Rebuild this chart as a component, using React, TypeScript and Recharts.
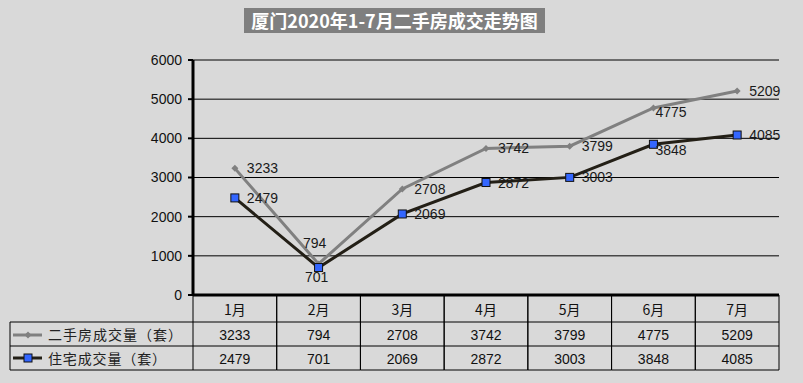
import React from 'react';
import {
  ComposedChart,
  Line,
  XAxis,
  YAxis,
  CartesianGrid,
  LabelList,
} from 'recharts';

// 厦门2020年1-7月二手房成交数据（套）
const months = ['1月', '2月', '3月', '4月', '5月', '6月', '7月'];
const resaleDeals = [3233, 794, 2708, 3742, 3799, 4775, 5209];
const housingDeals = [2479, 701, 2069, 2872, 3003, 3848, 4085];
const yTicks = [0, 1000, 2000, 3000, 4000, 5000, 6000];

const seriesNames = ['二手房成交量（套）', '住宅成交量（套）'];

const data = months.map((m, i) => ({
  month: m,
  resale: resaleDeals[i],
  housing: housingDeals[i],
}));

const W = 803;
const H = 383;
const PLOT_LEFT = 193;
const PLOT_RIGHT = 779;
const COL_W = (PLOT_RIGHT - PLOT_LEFT) / months.length;
const TABLE_LEFT = 10;
const ROW1 = 27;
const ROW2 = 51;
const ROW3 = 75;

const BG = '#d9d9d9';
const GREY = '#808080';
const DARK = '#231f16';
const BLUE = '#3366ff';
const NUM_FONT = '"Liberation Sans", Arial, sans-serif';
const CJK_FONT = '"Noto Sans CJK SC", "Noto Sans", sans-serif';

// label placement per point: [dx, dy, anchor]
const resaleLabelPos: Record<number, [number, number, string]> = {
  1: [-4, -16, 'middle'],
  5: [2, 9, 'start'],
};
const housingLabelPos: Record<number, [number, number, string]> = {
  1: [-2, 14, 'middle'],
  5: [2, 11, 'start'],
};

const makeLabel = (pos: Record<number, [number, number, string]>) => (props: any) => {
  const { x, y, value, index } = props;
  const [dx, dy, anchor] = pos[index] || [12, 5, 'start'];
  return (
    <text
      x={x + dx}
      y={y + dy}
      textAnchor={anchor as any}
      fontSize={14}
      fontFamily={NUM_FONT}
      fill="#1a1a1a"
    >
      {value}
    </text>
  );
};

const Diamond = ({ cx, cy, r = 3.5, fill = GREY }: any) => (
  <path d={`M${cx},${cy - r} L${cx + r},${cy} L${cx},${cy + r} L${cx - r},${cy} Z`} fill={fill} />
);

const Square = ({ cx, cy, s = 8 }: any) => (
  <rect x={cx - s / 2} y={cy - s / 2} width={s} height={s} fill={BLUE} stroke="#111" strokeWidth={1} />
);

// each x tick draws one column of the data table under the plot
const TableColumn = (props: any) => {
  const { x, y, payload } = props;
  const i = payload.index;
  const left = x - COL_W / 2;
  const right = x + COL_W / 2;
  const textProps = { fontSize: 14, fill: '#111', textAnchor: 'middle' as const };
  return (
    <g>
      <line x1={left} y1={y} x2={left} y2={y + ROW3} stroke="#000" strokeWidth={1} />
      <line x1={right} y1={y} x2={right} y2={y + ROW3} stroke="#000" strokeWidth={1} />
      <line x1={left} y1={y + ROW1} x2={right} y2={y + ROW1} stroke="#000" strokeWidth={1} />
      <line x1={left} y1={y + ROW2} x2={right} y2={y + ROW2} stroke="#000" strokeWidth={1} />
      <line x1={left} y1={y + ROW3} x2={right} y2={y + ROW3} stroke="#000" strokeWidth={1} />
      <text x={x} y={y + 20} fontFamily={CJK_FONT} {...textProps}>
        {months[i]}
      </text>
      <text x={x} y={y + 45} fontFamily={NUM_FONT} {...textProps}>
        {resaleDeals[i]}
      </text>
      <text x={x} y={y + 69} fontFamily={NUM_FONT} {...textProps}>
        {housingDeals[i]}
      </text>
      {i === 0 && (
        <g>
          <line x1={TABLE_LEFT} y1={y + ROW1} x2={left} y2={y + ROW1} stroke="#000" strokeWidth={1} />
          <line x1={TABLE_LEFT} y1={y + ROW2} x2={left} y2={y + ROW2} stroke="#000" strokeWidth={1} />
          <line x1={TABLE_LEFT} y1={y + ROW3} x2={left} y2={y + ROW3} stroke="#000" strokeWidth={1} />
          <line x1={TABLE_LEFT} y1={y + ROW1} x2={TABLE_LEFT} y2={y + ROW3} stroke="#000" strokeWidth={1} />
          {/* legend keys */}
          <line x1={13} y1={y + 40} x2={42} y2={y + 40} stroke={GREY} strokeWidth={3} />
          <Diamond cx={28} cy={y + 40} />
          <line x1={13} y1={y + 63} x2={42} y2={y + 63} stroke={DARK} strokeWidth={3} />
          <Square cx={28} cy={y + 63} s={8} />
          <text x={48} y={y + 45} fontSize={14} textLength={134} lengthAdjust="spacing" fontFamily={CJK_FONT} fill="#222">
            {seriesNames[0]}
          </text>
          <text x={48} y={y + 69} fontSize={14} textLength={118} lengthAdjust="spacing" fontFamily={CJK_FONT} fill="#222">
            {seriesNames[1]}
          </text>
        </g>
      )}
    </g>
  );
};

const App: React.FC = () => {
  return (
    <div style={{ position: 'absolute', left: 0, top: 0, width: W, height: H, background: BG }}>
      <div
        style={{
          position: 'absolute',
          left: 244,
          top: 8,
          width: 301,
          height: 25,
          lineHeight: '25px',
          background: '#7f7f7f',
          color: '#fff',
          fontFamily: CJK_FONT,
          fontWeight: 700,
          fontSize: 18,
          textAlign: 'center',
          whiteSpace: 'nowrap',
        }}
      >
        厦门2020年1-7月二手房成交走势图
      </div>
      <ComposedChart
        width={W}
        height={H}
        data={data}
        margin={{ top: 60, right: W - PLOT_RIGHT, left: 0, bottom: 13 }}
      >
        <CartesianGrid vertical={false} stroke="#000" strokeWidth={1} />
        <XAxis
          dataKey="month"
          interval={0}
          height={75}
          padding={{ left: COL_W / 2, right: COL_W / 2 }}
          tickSize={0}
          tickMargin={0}
          tickLine={false}
          axisLine={{ stroke: '#000', strokeWidth: 3 }}
          tick={(p: any) => <TableColumn {...p} />}
        />
        <YAxis
          width={PLOT_LEFT}
          domain={[0, 6000]}
          ticks={yTicks}
          interval={0}
          tickSize={5}
          tickMargin={6}
          tickLine={{ stroke: '#000', strokeWidth: 2 }}
          axisLine={{ stroke: '#000', strokeWidth: 3 }}
          tick={{ fontSize: 14, fill: '#111', fontFamily: NUM_FONT }}
        />
        <Line
          dataKey="resale"
          stroke={GREY}
          strokeWidth={3}
          isAnimationActive={false}
          dot={(p: any) => <Diamond key={`d-${p.index}`} cx={p.cx} cy={p.cy} />}
          activeDot={false}
        >
          <LabelList dataKey="resale" content={makeLabel(resaleLabelPos)} />
        </Line>
        <Line
          dataKey="housing"
          stroke={DARK}
          strokeWidth={3}
          isAnimationActive={false}
          dot={(p: any) => <Square key={`s-${p.index}`} cx={p.cx} cy={p.cy} />}
          activeDot={false}
        >
          <LabelList dataKey="housing" content={makeLabel(housingLabelPos)} />
        </Line>
      </ComposedChart>
    </div>
  );
};

export default App;
